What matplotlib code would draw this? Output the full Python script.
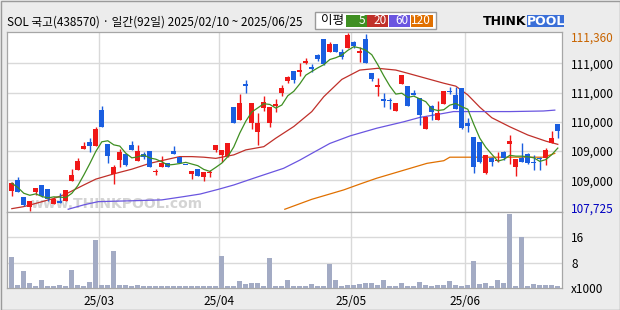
import matplotlib
matplotlib.use("Agg")
import matplotlib.pyplot as plt
import numpy as np
import pandas as pd
from matplotlib.patches import Rectangle

plt.rcParams["font.family"] = ["Noto Sans CJK KR", "DejaVu Sans"]

W, H = 620, 310

TITLE = "SOL 국고(438570) · 일간(92일) 2025/02/10 ~ 2025/06/25"

# Daily candles, 2025/02/10 .. 2025/06/25 (92 sessions)
opens = [
    108825, 109005, 108710, 108550, 108795, 108920, 108845, 108595, 108650, 108650,
    108995, 109175, 109540, 109660, 109590, 110200, 109620, 109110, 109345, 109450,
    109605, 109335, 109450, 109500, 109135, 109220, 109290, 109500, 109405, 109265,
    109110, 109190, 109050, 109125, 109520, 109435, 109415, 110250, 110030, 110645,
    109985, 109830, 110230, 109985, 110270, 110485, 110705, 110865, 110855, 111000,
    110930, 111145, 111415, 111200, 111330, 111195, 111270, 111360, 111170, 111415,
    110830, 110600, 110385, 110355, 110190, 110640, 110610, 110500, 110415, 109875,
    110270, 110030, 110305, 110530, 110460, 110570, 109985, 109735, 109650, 109120,
    109385, 109330, 109480, 109615, 109220, 109385, 109450, 109320, 109385, 109385,
    109630, 109965,
]
highs = [
    108975, 109060, 108710, 108640, 108865, 108920, 108845, 108720, 108790, 108830,
    109195, 109375, 109650, 109715, 109915, 110270, 109620, 109260, 109530, 109450,
    109670, 109605, 109480, 109500, 109195, 109415, 109290, 109585, 109405, 109265,
    109155, 109190, 109135, 109175, 109605, 109520, 109630, 110250, 110470, 110715,
    110315, 110145, 110440, 110250, 110385, 110630, 110790, 110865, 111000, 111085,
    110985, 111155, 111415, 111370, 111330, 111245, 111515, 111385, 111275, 111500,
    110830, 110745, 110485, 110415, 110315, 110800, 110610, 110545, 110415, 110100,
    110290, 110355, 110525, 110600, 110600, 110570, 110060, 109735, 109650, 109435,
    109405, 109490, 109505, 109775, 109365, 109630, 109470, 109435, 109400, 109545,
    109845, 109965,
]
lows = [
    108735, 108805, 108565, 108480, 108750, 108720, 108650, 108595, 108615, 108640,
    108995, 109175, 109540, 109490, 109590, 109915, 109290, 108935, 109235, 109245,
    109520, 109335, 109365, 109220, 109090, 109220, 109220, 109455, 109290, 109260,
    109030, 109080, 108995, 109060, 109490, 109320, 109405, 109975, 110030, 110485,
    109875, 109605, 110190, 109915, 110160, 110445, 110670, 110670, 110785, 110985,
    110860, 111040, 110970, 111200, 111200, 111070, 111270, 111255, 111025, 111010,
    110705, 110445, 110250, 110215, 110190, 110640, 110275, 110455, 109945, 109870,
    110030, 110030, 110305, 110475, 110215, 109875, 109820, 109120, 109290, 109110,
    109250, 109320, 109345, 109275, 109075, 109305, 109280, 109175, 109175, 109260,
    109630, 109720,
]
closes = [
    108950, 108805, 108580, 108640, 108865, 108730, 108675, 108675, 108615, 108830,
    109090, 109330, 109585, 109590, 109870, 109915, 109420, 109235, 109485, 109260,
    109520, 109500, 109405, 109220, 109160, 109300, 109220, 109455, 109300, 109260,
    109155, 109080, 109135, 109130, 109605, 109520, 109630, 109975, 110315, 110610,
    110315, 109975, 110335, 110250, 110300, 110575, 110770, 110715, 110885, 111045,
    110895, 111075, 110985, 111325, 111200, 111115, 111485, 111300, 111215, 111010,
    110725, 110630, 110350, 110350, 110315, 110800, 110275, 110455, 110115, 110075,
    110175, 110145, 110525, 110505, 110215, 109900, 109930, 109235, 109320, 109435,
    109305, 109345, 109375, 109675, 109365, 109305, 109290, 109290, 109365, 109520,
    109730, 109850,
]
# volume in thousands
volumes = [
    9.9, 0.85, 5.3, 1.5, 0.6, 2.45, 0.5, 0.5, 0.85, 0.5,
    5.65, 0.85, 0.5, 1.8, 15.3, 0.85, 0.85, 11.8, 0.85, 0.85,
    0.5, 0.85, 0.4, 0.4, 0.4, 0.4, 0.4, 0.4, 0.4, 0.4,
    0.4, 0.4, 0.4, 0.4, 0.4, 10.2, 0.5, 0.5, 2.1, 1.2,
    1.5, 1.5, 0.5, 9.6, 0.5, 0.5, 2.45, 0.5, 0.5, 0.5,
    1.2, 0.5, 0.5, 7.6, 2.45, 0.5, 0.85, 0.85, 1.2, 1.5,
    1.5, 0.85, 2.45, 0.5, 0.5, 1.5, 0.5, 0.5, 1.8, 0.85,
    0.5, 0.85, 0.85, 2.1, 0.85, 0.5, 0.85, 8.5, 1.2, 1.5,
    0.5, 2.45, 1.5, 23.6, 0.5, 16.2, 0.5, 1.2, 0.85, 0.85,
    0.85, 0.5,
]

# moving averages (session index, price)
ma20_idx = [0, 2, 4, 7, 9, 12, 14, 17, 20, 23, 26, 28, 30, 32, 34, 37, 39, 42, 44, 47,
            50, 52, 55, 58, 61, 64, 66, 69, 72, 74, 76, 78, 80, 83, 86, 89, 91]
ma20_val = [108515, 108550, 108605, 108690, 108765, 108920, 109020, 109110, 109190, 109290,
            109360, 109405, 109405, 109395, 109375, 109435, 109520, 109575, 109720, 109920,
            110175, 110430, 110725, 110885, 110915, 110885, 110830, 110745, 110660, 110610,
            110460, 110250, 110070, 109915, 109775, 109670, 109615]
ma60_idx = [9.4, 12, 14.4, 20, 25, 28.6, 31.4, 34.4, 37, 40.3, 42.5, 45.3, 48, 50,
            53, 56.4, 60.8, 65.3, 68, 72, 73.6, 83, 88.6, 90.5]
ma60_val = [108505, 108580, 108635, 108650, 108665, 108720, 108765, 108845, 108920, 109035,
            109110, 109205, 109345, 109460, 109630, 109760, 109890, 110000, 110075, 110145,
            110175, 110175, 110185, 110200]
ma120_idx = [45.5, 50, 55.3, 58, 60.8, 63.6, 66.4, 69.2, 72, 73, 80, 88.6, 90.5]
ma120_val = [108505, 108675, 108835, 108935, 109035, 109120, 109205, 109290, 109335, 109395,
             109395, 109395, 109460]

month_starts = [15, 35, 57, 76]
month_labels = ["25/03", "25/04", "25/05", "25/06"]

price_grid = [111000, 110500, 110000, 109500, 109000]
price_grid_labels = ["111,000", "111,000", "110,000", "109,000", "109,000"]
price_hi_label = "111,360"
price_lo_label = "107,725"
vol_ticks = [0, 8, 16]
vol_tick_labels = ["x1000", "8", "16"]

legend_names = ["5", "20", "60", "120"]

UP = "#f01818"
DOWN = "#1a5ee0"
MA_COLORS = ["#3f8f22", "#c0302a", "#6a55e0", "#e07000"]
GRID = "#d9d9d9"
FRAME = "#a6a6a6"
BG = "#ececec"


def fx(x):
    return x / W


def fy(y):
    return 1 - y / H


def style_axes(ax):
    ax.set_facecolor("white")
    for sp in ax.spines.values():
        sp.set_color(FRAME)
        sp.set_linewidth(0.9)
    ax.tick_params(axis="both", length=0)
    ax.set_xlim(-0.75, 91.75)
    for m in month_starts:
        ax.axvline(m - 0.5, color=GRID, lw=1.0, zorder=0)


fig = plt.figure(figsize=(W / 100, H / 100), dpi=100, facecolor=BG)
fig.patches.append(Rectangle((fx(0.5), fy(309.5)), fx(619), 309 / H,
                             transform=fig.transFigure, fill=False, ec="#9a9a9a", lw=1.0))

# price panel
ax = fig.add_axes([fx(7.3), fy(211.7), fx(562.3 - 7.3), (211.7 - 31.7) / H])
style_axes(ax)
ax.set_ylim(108463, 111541)
for p in price_grid:
    ax.axhline(p, color=GRID, lw=1.0, zorder=0)

x = np.arange(len(closes))
o = np.array(opens)
c = np.array(closes)
hi = np.array(highs)
lo = np.array(lows)
colors = np.where(c >= o, UP, DOWN)
ax.vlines(x, lo, hi, colors=colors, lw=1.0, zorder=3)
body_bottom = np.minimum(o, c)
body_h = np.maximum(np.abs(c - o), 18)
ax.bar(x, body_h, bottom=body_bottom, width=0.82, color=colors, lw=0, zorder=4)

ma5 = pd.Series(closes).rolling(5, min_periods=1).mean()
ax.plot(ma20_idx, ma20_val, color=MA_COLORS[1], lw=0.9, zorder=2)
ax.plot(ma60_idx, ma60_val, color=MA_COLORS[2], lw=0.9, zorder=2)
ax.plot(ma120_idx, ma120_val, color=MA_COLORS[3], lw=0.9, zorder=2)
ax.plot(x, ma5, color=MA_COLORS[0], lw=0.9, zorder=5)

# faint watermark
ax.text(0.042, 0.02, "www.THINKPOOL.com", transform=ax.transAxes, fontsize=10,
        color="#d4d4d4", fontweight="bold", zorder=1, family="DejaVu Sans")

lo_lim, hi_lim = ax.get_ylim()
span = hi_lim - lo_lim
yt = [hi_lim - 0.03 * span] + price_grid + [lo_lim + 0.025 * span]
ax.yaxis.tick_right()
ax.set_yticks(yt)
ax.set_yticklabels([price_hi_label] + price_grid_labels + [price_lo_label], fontsize=8.5)
ax.tick_params(axis="y", pad=6.5)
tl = ax.get_yticklabels()
tl[0].set_color("#c86400")
tl[-1].set_color("#0000c0")
ax.set_xticks([])

# volume panel
axv = fig.add_axes([fx(7.3), fy(287.7), fx(562.3 - 7.3), (287.7 - 211.7) / H])
style_axes(axv)
axv.set_ylim(0, 24.2)
for v in vol_ticks[1:]:
    axv.axhline(v, color=GRID, lw=1.0, zorder=0)
axv.bar(x, volumes, width=0.78, color="#a3abc4", lw=0, zorder=3)
axv.yaxis.tick_right()
axv.set_yticks(vol_ticks)
axv.set_yticklabels(vol_tick_labels, fontsize=8.5)
axv.tick_params(axis="y", pad=6.5)
axv.set_xticks([m - 0.5 for m in month_starts])
axv.set_xticklabels(month_labels, fontsize=8.5)
axv.tick_params(axis="x", pad=5)

# title
fig.text(fx(7), fy(22.5), TITLE, fontsize=8.4, va="center", ha="left")

# MA legend box
fig.patches.append(Rectangle((fx(315), fy(29)), fx(121), (29 - 12.3) / H, transform=fig.transFigure,
                             fc="white", ec="#9a9a9a", lw=1.0))
fig.text(fx(321), fy(20.8), "이평", fontsize=9, va="center", ha="left")
box_left = [345.7, 367.3, 389, 411]
box_w = [21, 20.7, 21, 21.7]
for bl, bw, name, col in zip(box_left, box_w, legend_names, MA_COLORS):
    fig.patches.append(Rectangle((fx(bl), fy(27.3)), fx(bw), (27.3 - 15) / H, transform=fig.transFigure,
                                 fc=col, ec="none"))
    fig.text(fx(bl + bw - 1.5), fy(21), name, fontsize=8.5, color="white", va="center", ha="right")

# logo
fig.text(fx(526.5), fy(21.2), "THINK", fontsize=9, fontweight="bold", va="center", ha="right",
         family="DejaVu Sans")
fig.patches.append(Rectangle((fx(527.3), fy(27.3)), fx(36.7), (27.3 - 15) / H, transform=fig.transFigure,
                             fc="#3a6fd8", ec="none"))
fig.text(fx(545.6), fy(21.2), "POOL", fontsize=9, fontweight="bold", color="white", va="center",
         ha="center", family="DejaVu Sans")

fig.savefig("out.png", dpi=100, facecolor=BG)
